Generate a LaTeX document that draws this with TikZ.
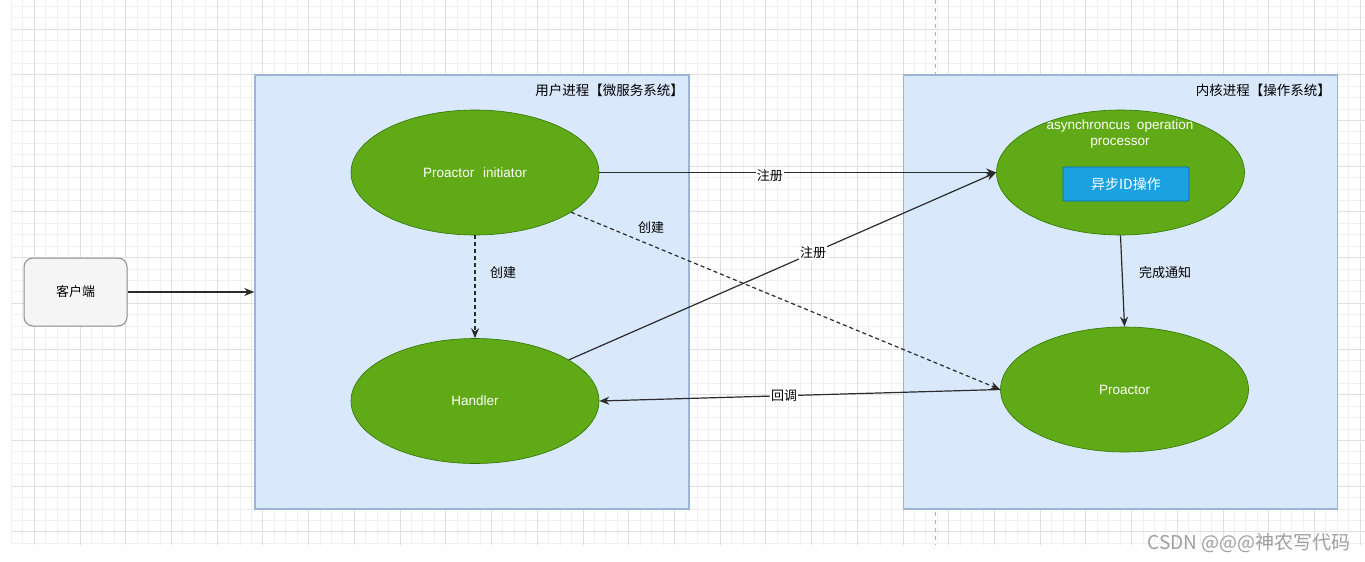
\documentclass[tikz,border=0pt]{standalone}
\usepackage{fontspec}
\setmainfont{Liberation Sans}
\newfontfamily\cjk{Noto Sans CJK SC}
\usetikzlibrary{shapes.geometric,arrows.meta}
\definecolor{boxfill}{HTML}{DAE8FC}
\definecolor{boxline}{HTML}{9CB4D8}
\definecolor{gfill}{HTML}{60A917}
\definecolor{gline}{HTML}{2D7600}
\definecolor{bfill}{HTML}{1BA1E2}
\definecolor{bline}{HTML}{006EAF}
\definecolor{cfill}{HTML}{F5F5F5}
\definecolor{cline}{HTML}{8A8A8A}
\definecolor{gridminor}{HTML}{F0F0F0}
\definecolor{gridmajor}{HTML}{E0E0E0}
\definecolor{edgecol}{HTML}{2B2B2B}
\tikzset{
  procbox/.style={draw=boxline, fill=boxfill, line width=1.5pt, minimum width=434pt, minimum height=434pt, inner sep=0pt},
  greenell/.style={ellipse, draw=gline, fill=gfill, line width=0.6pt, minimum width=248pt, minimum height=125pt, inner sep=0pt, text=white, font=\fontsize{13.5}{15}\selectfont},
  conn/.style={draw=edgecol, line width=1.2pt, -{Stealth[length=10pt,width=8pt]}},
  dconn/.style={conn, dash pattern=on 4pt off 3pt},
  elabel/.style={font=\cjk\fontsize{13}{14}\selectfont, text=black, inner sep=1pt},
  onlabel/.style={elabel, fill=white},
}
\begin{document}
\begin{tikzpicture}[x=1pt,y=-1pt]
\useasboundingbox[fill=white] (0,0) rectangle (1365,562);
% grid
\foreach \i in {0,...,118} {
  \pgfmathsetmacro\gx{11.4+11.43*\i}
  \draw[gridminor, line width=0.8pt] (\gx,0) -- (\gx,545);
}
\foreach \j in {0,...,47} {
  \pgfmathsetmacro\gy{6.1+11.43*\j}
  \draw[gridminor, line width=0.8pt] (12,\gy) -- (1365,\gy);
}
\foreach \i in {0,...,29} {
  \pgfmathsetmacro\gx{34.26+45.72*\i}
  \draw[gridmajor, line width=0.8pt] (\gx,0) -- (\gx,545);
}
\foreach \j in {0,...,11} {
  \pgfmathsetmacro\gy{28.96+45.72*\j}
  \draw[gridmajor, line width=0.8pt] (12,\gy) -- (1365,\gy);
}
\draw[gray!60, line width=1pt, dash pattern=on 4pt off 4pt] (935,0) -- (935,545);

% process boxes
\node[procbox] (user) at (472,292) {};
\node[procbox] (kern) at (1120.5,292) {};
\node[font=\cjk\fontsize{13.5}{14}\selectfont, anchor=east, inner sep=0pt] (userlbl) at (684,90) {用户进程【微服务系统】};
\node[font=\cjk\fontsize{13.5}{14}\selectfont, anchor=east, inner sep=0pt] (kernlbl) at (1331,90) {内核进程【操作系统】};

% client
\node[draw=cline, fill=cfill, rounded corners=9pt, line width=1pt, minimum width=103pt, minimum height=68pt, font=\cjk\fontsize{13}{14}\selectfont] (client) at (75.5,292) {客户端};

% ellipses
\node[greenell] (init) at (475,172.5) {Proactor\hspace{9pt}initiator};
\node[greenell] (handler) at (475,401) {Handler};
\node[greenell] (async) at (1120.5,172.5) {};
\node[font=\fontsize{13.5}{16}\selectfont, text=white, align=center, inner sep=0pt] (asynctxt) at (1120,134) {asynchroncus\hspace{7pt}operation\\processor};
\node[draw=bline, fill=bfill, rounded corners=2pt, line width=0.8pt, minimum width=126pt, minimum height=34pt, inner sep=0pt, text=white, font=\cjk\fontsize{14}{15}\selectfont] (asyncid) at (1126,184) {异步ID操作};
\node[greenell] (proactor) at (1124.5,389.5) {Proactor};

% connectors
\draw[conn] (client.east) -- (user.west);
\draw[conn] (init.east) -- node[onlabel, pos=0.43, yshift=-3pt] (l1) {注册} (async.west);
\draw[dconn] (init.south) -- (handler.north);
\node[elabel] (l2) at (503,273) {创建};
\draw[dconn] (init) -- (proactor.west);
\node[elabel] (l3) at (651,228) {创建};
\draw[conn] (handler) -- (async.west);
\node[onlabel] (l4) at (813,253) {注册};
\draw[conn] (async.south) -- (proactor.north);
\node[elabel] (l5) at (1165,273) {完成通知};
\draw[conn] (proactor.west) -- (handler.east);
\node[onlabel] (l6) at (784,396) {回调};

% watermark
\node[anchor=east, text=gray!75, font=\cjk\fontsize{19}{22}\selectfont, inner sep=0pt] (wm) at (1351,543) {CSDN @@@神农写代码};
\end{tikzpicture}
\end{document}
